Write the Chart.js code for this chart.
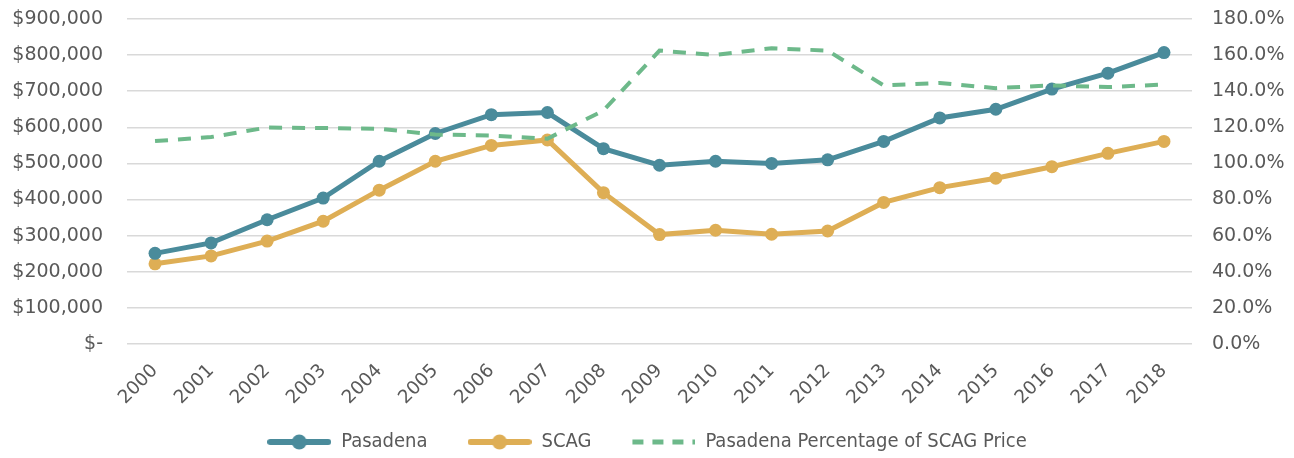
<!DOCTYPE html>
<html>
<head>
<meta charset="utf-8">
<script src="https://cdn.jsdelivr.net/npm/chart.js@4"></script>
<style>
  html, body { margin: 0; padding: 0; background: #ffffff; }
  #wrap { width: 1294px; height: 458px; }
</style>
</head>
<body>
<div id="wrap"><canvas id="c" width="1294" height="458"></canvas></div>
<script>
const years = ['2000','2001','2002','2003','2004','2005','2006','2007','2008','2009','2010','2011','2012','2013','2014','2015','2016','2017','2018'];
const pasadena = [251000, 280000, 344000, 404000, 506000, 583000, 635000, 641000, 541000, 495000, 506000, 500000, 510000, 561000, 626000, 650000, 706000, 750000, 807000];
const scag = [222000, 244000, 285000, 340000, 426000, 506000, 550000, 565000, 419000, 303000, 315000, 304000, 313000, 392000, 433000, 459000, 491000, 528000, 561000];
const pctOfScag = [112.4, 114.6, 119.9, 119.6, 119.2, 116.0, 115.5, 113.7, 129.3, 162.5, 160.1, 163.8, 162.5, 143.2, 144.6, 141.7, 143.2, 142.3, 143.7];
const leftTicks = [0, 100000, 200000, 300000, 400000, 500000, 600000, 700000, 800000, 900000];
const rightTicks = [0, 20, 40, 60, 80, 100, 120, 140, 160, 180];

const TEAL = '#4a8b9b';
const GOLD = '#deae55';
const GREEN = '#6db98a';
const TXT = '#595959';
const GRID = '#d9d9d9';
const TICK_FONT = { family: "'DejaVu Sans', sans-serif", size: 19 };
const XTICK_FONT = { family: "'DejaVu Sans', sans-serif", size: 18.5 };

function legendIcon(color, dashed, dot) {
  const cv = document.createElement('canvas');
  cv.width = 64; cv.height = 16;
  const g = cv.getContext('2d');
  g.strokeStyle = color; g.lineWidth = dashed ? 5 : 6; g.lineCap = dashed ? 'butt' : 'round';
  if (dashed) g.setLineDash([11, 9]);
  g.beginPath(); g.moveTo(dashed ? 1 : 3, 8); g.lineTo(dashed ? 64 : 61, 8); g.stroke();
  if (dot) { g.fillStyle = color; g.beginPath(); g.arc(32, 8, 7.5, 0, Math.PI * 2); g.fill(); }
  return cv;
}
const legendIcons = [legendIcon(TEAL, false, true), legendIcon(GOLD, false, true), legendIcon(GREEN, true, false)];

const legendShift = {
  id: 'legendShift',
  afterLayout(chart) {
    const lg = chart.legend;
    if (lg) {
      const h = lg.height;
      lg.top = 392; lg.bottom = lg.top + h;
    }
    const xs = chart.scales.x;
    if (xs) { xs.bottom = 425; xs.height = xs.bottom - xs.top; }
  }
};

function trimPad(s) { s.paddingTop = 8; s.paddingBottom = 8; }

new Chart(document.getElementById('c'), {
  type: 'line',
  data: {
    labels: years,
    datasets: [
      { label: 'Pasadena', data: pasadena, yAxisID: 'y', borderColor: TEAL, backgroundColor: TEAL,
        borderWidth: 5, pointRadius: 6.5, pointHoverRadius: 6.5, pointBackgroundColor: TEAL, pointBorderWidth: 0,
        pointStyle: 'circle', tension: 0, order: 2 },
      { label: 'SCAG', data: scag, yAxisID: 'y', borderColor: GOLD, backgroundColor: GOLD,
        borderWidth: 5, pointRadius: 6.5, pointHoverRadius: 6.5, pointBackgroundColor: GOLD, pointBorderWidth: 0,
        pointStyle: 'circle', tension: 0, order: 3 },
      { label: 'Pasadena Percentage of SCAG Price', data: pctOfScag, yAxisID: 'y1', borderColor: GREEN, backgroundColor: GREEN,
        borderWidth: 4, borderDash: [13, 10], pointRadius: 0, pointHoverRadius: 0,
        tension: 0, order: 1 }
    ]
  },
  options: {
    responsive: false,
    animation: false,
    events: [],
    layout: { padding: { top: 19, bottom: 0, left: 0, right: 0 } },
    plugins: {
      tooltip: { enabled: false },
      legend: {
        position: 'bottom',
        labels: {
          usePointStyle: true,
          pointStyleWidth: 64,
          boxHeight: 16,
          padding: 40,
          color: TXT,
          font: { family: "'Liberation Sans Narrow', 'DejaVu Sans Condensed', sans-serif", size: 20 },
          generateLabels(chart) {
            return chart.data.datasets.map((ds, i) => ({
              text: ds.label, pointStyle: legendIcons[i], fillStyle: ds.borderColor, strokeStyle: ds.borderColor,
              lineWidth: 0, hidden: false, datasetIndex: i, fontColor: TXT
            }));
          }
        }
      }
    },
    scales: {
      x: {
        offset: true,
        grid: { display: false, drawTicks: false },
        border: { display: false },
        ticks: { color: TXT, font: XTICK_FONT, minRotation: 45, maxRotation: 45, padding: 16, autoSkip: false },
        afterFit(s) { s.height = 44; }
      },
      y: {
        position: 'left',
        min: 0, max: 900000,
        afterBuildTicks(s) { s.ticks = leftTicks.map(v => ({ value: v })); },
        grid: { color: GRID, lineWidth: 1.5, drawTicks: false },
        border: { display: false },
        ticks: {
          color: TXT, font: TICK_FONT, padding: 24,
          callback(v) { return v === 0 ? '$-' : '$' + v.toLocaleString('en-US'); }
        },
        afterFit(s) { s.width = 127; trimPad(s); }
      },
      y1: {
        position: 'right',
        min: 0, max: 180,
        afterBuildTicks(s) { s.ticks = rightTicks.map(v => ({ value: v })); },
        grid: { display: false, drawTicks: false },
        border: { display: false },
        ticks: { color: TXT, font: TICK_FONT, padding: 20, callback(v) { return v.toFixed(1) + '%'; } },
        afterFit(s) { s.width = 102; trimPad(s); }
      }
    }
  },
  plugins: [legendShift]
});
</script>
</body>
</html>
